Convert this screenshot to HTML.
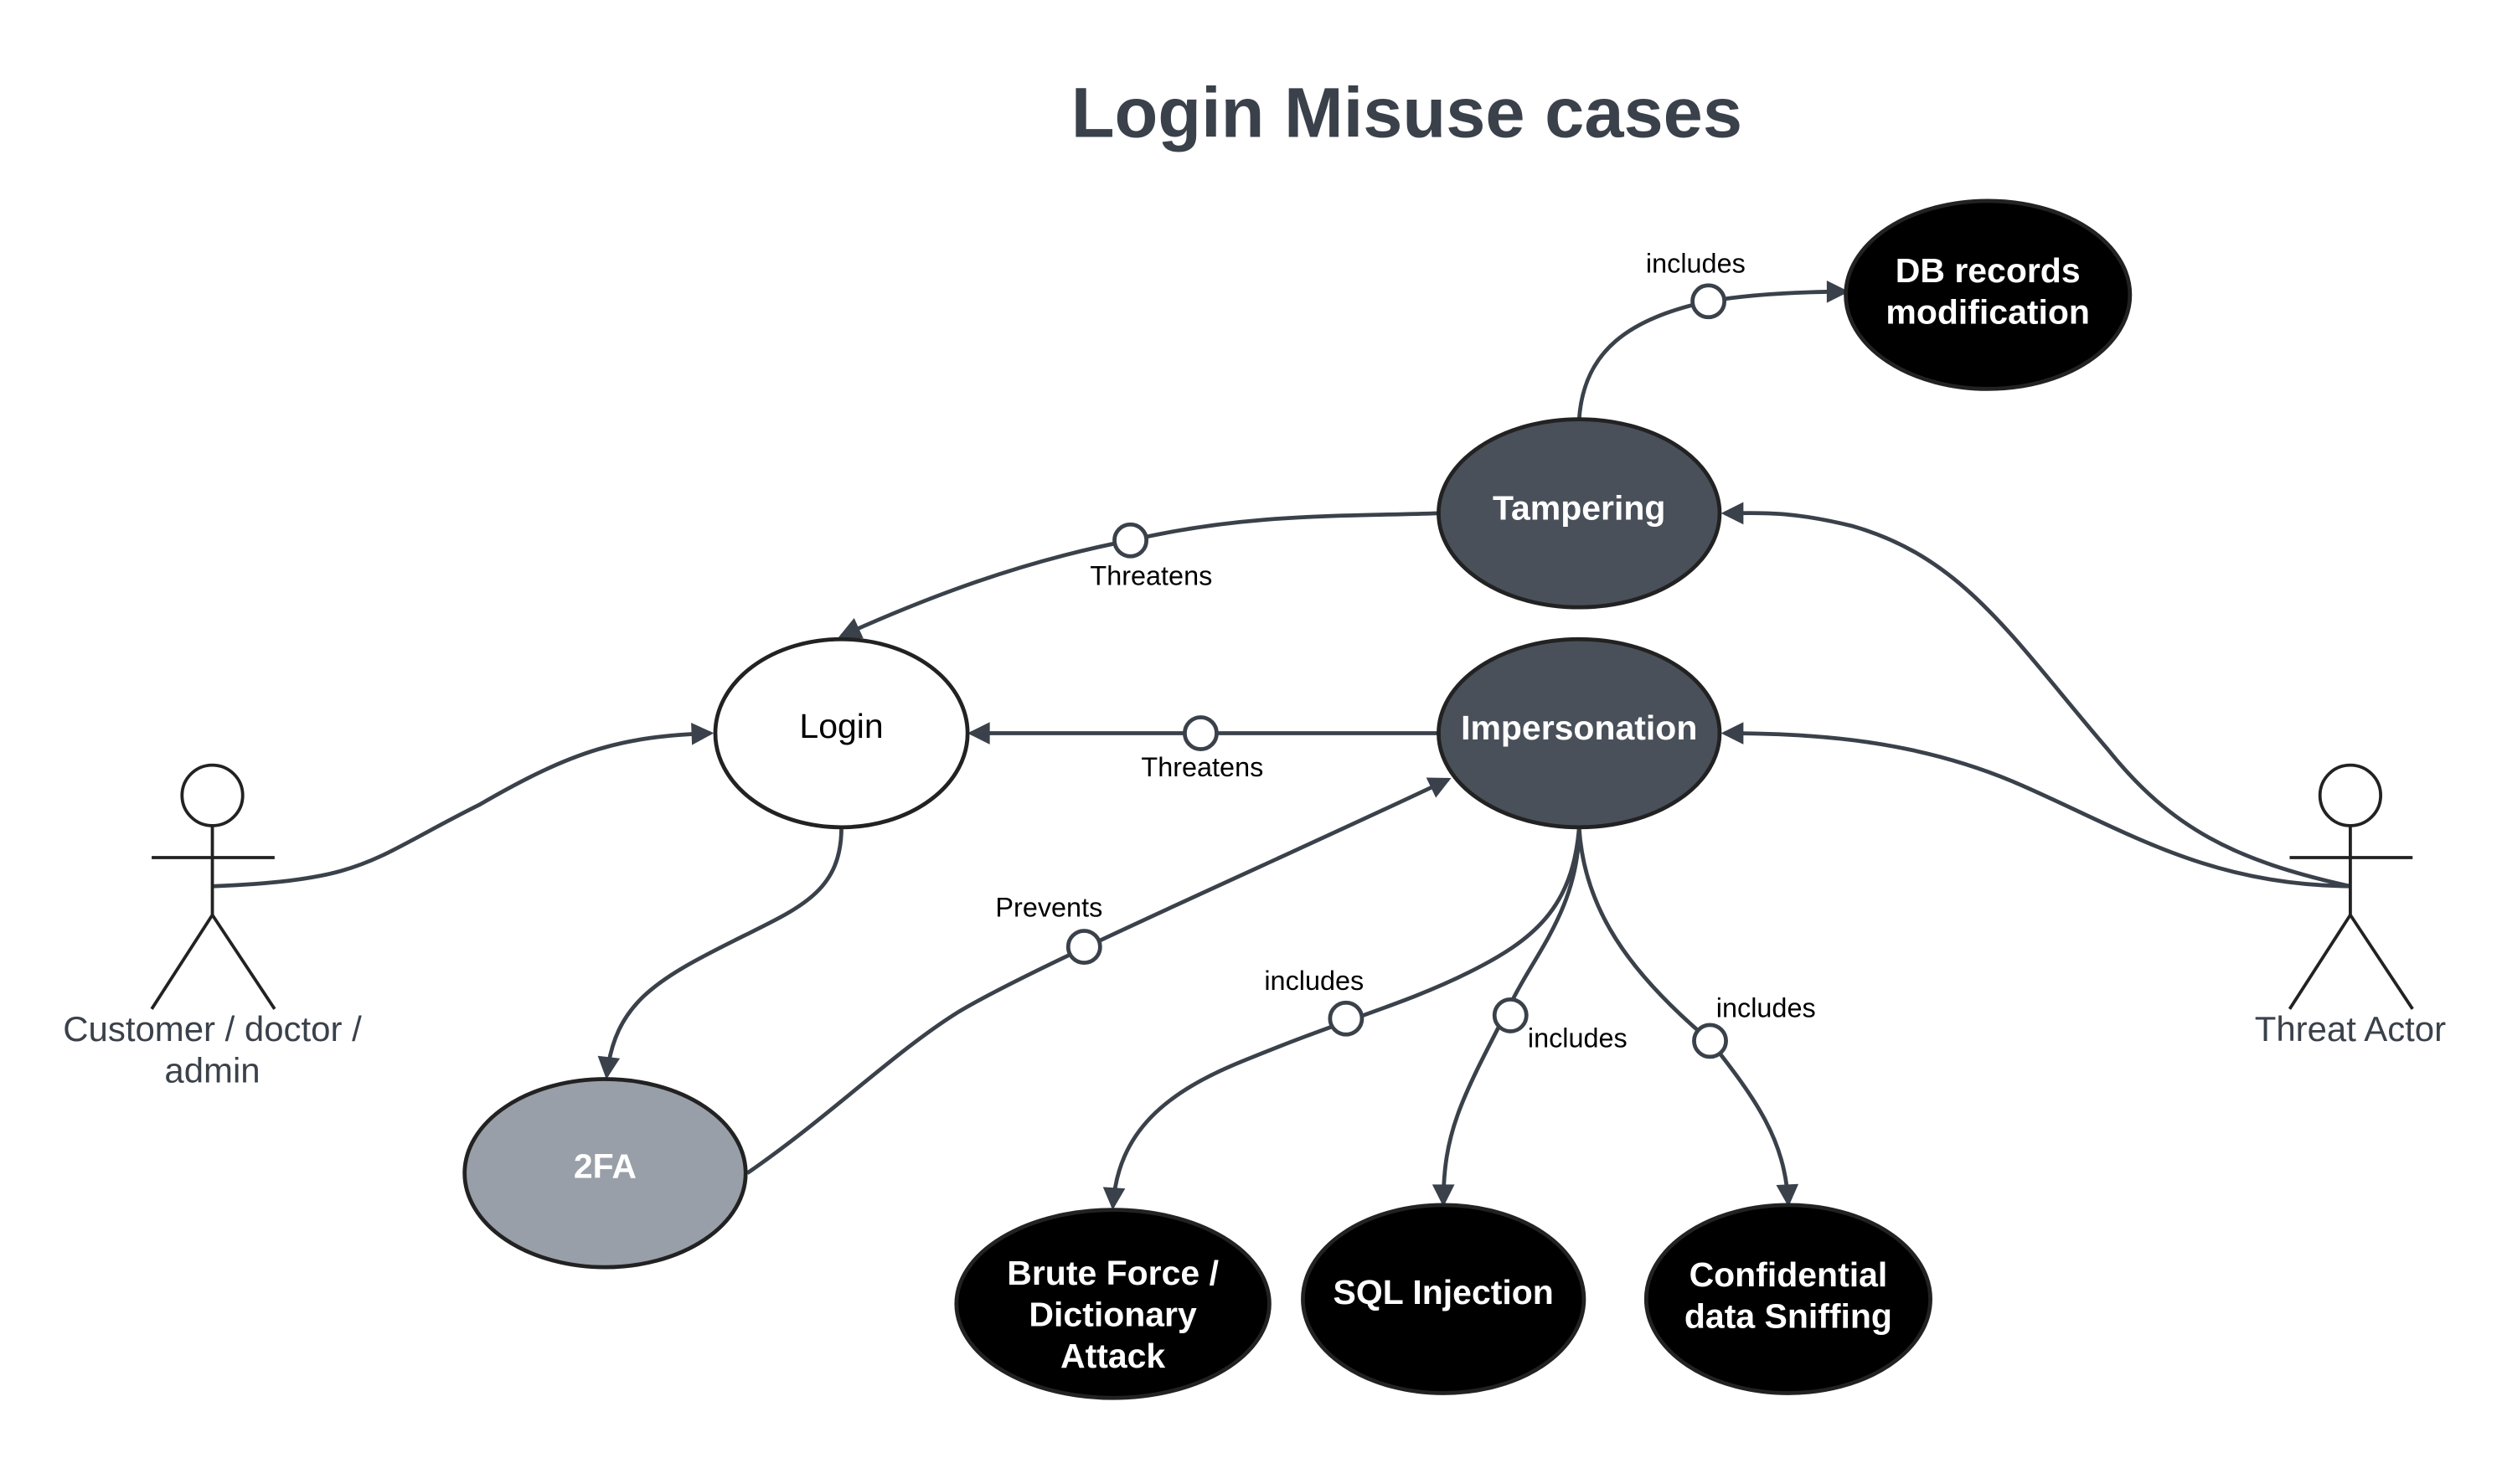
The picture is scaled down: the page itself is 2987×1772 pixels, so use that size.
<!DOCTYPE html>
<html><head><meta charset="utf-8"><style>
html,body{margin:0;padding:0;background:#fff;}
svg{display:block;}
text{font-family:"Liberation Sans",sans-serif;}
</style></head><body>
<svg width="2987" height="1772" viewBox="0 0 1567 931" preserveAspectRatio="none" xmlns="http://www.w3.org/2000/svg">
<defs>
<marker id="a" viewBox="0 0 10 10" refX="9" refY="5" markerWidth="7" markerHeight="7" markerUnits="userSpaceOnUse" orient="auto" style="overflow:visible">
<path d="M0,0 L10,5 L0,10 z" fill="#3a414a" transform="scale(2) translate(-4,-2.5)"/>
</marker>
</defs>
<rect width="1567" height="931" fill="#fff"/>
<text x="881" y="86" font-size="44.5" font-weight="bold" fill="#3a414a" text-anchor="middle">Login Misuse cases</text>

<g fill="none" stroke="#3a414a" stroke-width="2.5">
<path d="M133,556 C230,552 230,540 300,505 C360,470 390,462 445,460" marker-end="url(#a)"/>
<path d="M527,519 C527,560 500,570 460,590 C410,615 385,630 380,675" marker-end="url(#a)"/>
<path d="M468,736 C520,700 560,660 600,635 C650,605 800,540 907,489" marker-end="url(#a)"/>
<path d="M901,460 L608,460" marker-end="url(#a)"/>
<path d="M901,322 C840,324 780,322 708,339 C640,352 580,375 527,399" marker-end="url(#a)"/>
<path d="M989,263 C992,220 1020,200 1070,189 C1100,184 1130,183 1156,183" marker-end="url(#a)"/>
<path d="M1472,556 C1400,540 1360,520 1320,470 C1260,400 1230,350 1160,330 C1120,320 1100,322 1080,322" marker-end="url(#a)"/>
<path d="M1472,556 C1380,555 1330,520 1260,490 C1200,465 1140,460 1080,460" marker-end="url(#a)"/>
<path d="M989,519 C985,570 960,590 920,610 C880,630 843,639 780,665 C730,685 700,710 697,757" marker-end="url(#a)"/>
<path d="M989,519 C989,570 960,600 946,630 C915,690 904,710 904,755" marker-end="url(#a)"/>
<path d="M989,519 C992,570 1020,610 1071,653 C1100,690 1118,715 1120,755" marker-end="url(#a)"/>
</g>

<g fill="#fff" stroke="#3a414a" stroke-width="2.5">
<circle cx="679" cy="594" r="10"/>
<circle cx="752" cy="460" r="10"/>
<circle cx="708" cy="339" r="10"/>
<circle cx="1070" cy="189" r="10"/>
<circle cx="843" cy="639" r="10"/>
<circle cx="946" cy="637" r="10"/>
<circle cx="1071" cy="653" r="10"/>
</g>

<g font-size="17" fill="#000" text-anchor="middle">
<text x="657" y="575">Prevents</text>
<text x="753" y="487">Threatens</text>
<text x="721" y="367">Threatens</text>
<text x="1062" y="171">includes</text>
<text x="823" y="621">includes</text>
<text x="988" y="657">includes</text>
<text x="1106" y="638">includes</text>
</g>

<g stroke="#222" stroke-width="2.5">
<ellipse cx="1245" cy="185" rx="89" ry="59" fill="#000"/>
<ellipse cx="989" cy="322" rx="88" ry="59" fill="#4a505a"/>
<ellipse cx="989" cy="460" rx="88" ry="59" fill="#4a505a"/>
<ellipse cx="527" cy="460" rx="79" ry="59" fill="#fff"/>
<ellipse cx="379" cy="736" rx="88" ry="59" fill="#999fa8"/>
<ellipse cx="697" cy="818" rx="98" ry="59" fill="#000"/>
<ellipse cx="904" cy="815" rx="88" ry="59" fill="#000"/>
<ellipse cx="1120" cy="815" rx="89" ry="59" fill="#000"/>
</g>

<g font-size="21.5" font-weight="bold" fill="#fff" text-anchor="middle">
<text x="1245" y="177">DB records</text>
<text x="1245" y="203">modification</text>
<text x="989" y="326">Tampering</text>
<text x="989" y="464">Impersonation</text>
<text x="379" y="739">2FA</text>
<text x="697" y="806">Brute Force /</text>
<text x="697" y="832">Dictionary</text>
<text x="697" y="858">Attack</text>
<text x="904" y="818">SQL Injection</text>
<text x="1120" y="807">Confidential</text>
<text x="1120" y="833">data Sniffing</text>
</g>
<text x="527" y="463" font-size="21.5" fill="#000" text-anchor="middle">Login</text>

<g fill="none" stroke="#222" stroke-width="2">
<circle cx="133" cy="499" r="19"/>
<path d="M133,518 L133,574 M95,538 L172,538 M133,574 L95,633 M133,574 L172,633"/>
<circle cx="1472" cy="499" r="19"/>
<path d="M1472,518 L1472,574 M1434,538 L1511,538 M1472,574 L1434,633 M1472,574 L1511,633"/>
</g>
<g font-size="22" fill="#3a414a" text-anchor="middle">
<text x="133" y="653">Customer / doctor /</text>
<text x="133" y="679">admin</text>
<text x="1472" y="653">Threat Actor</text>
</g>
</svg>
</body></html>
